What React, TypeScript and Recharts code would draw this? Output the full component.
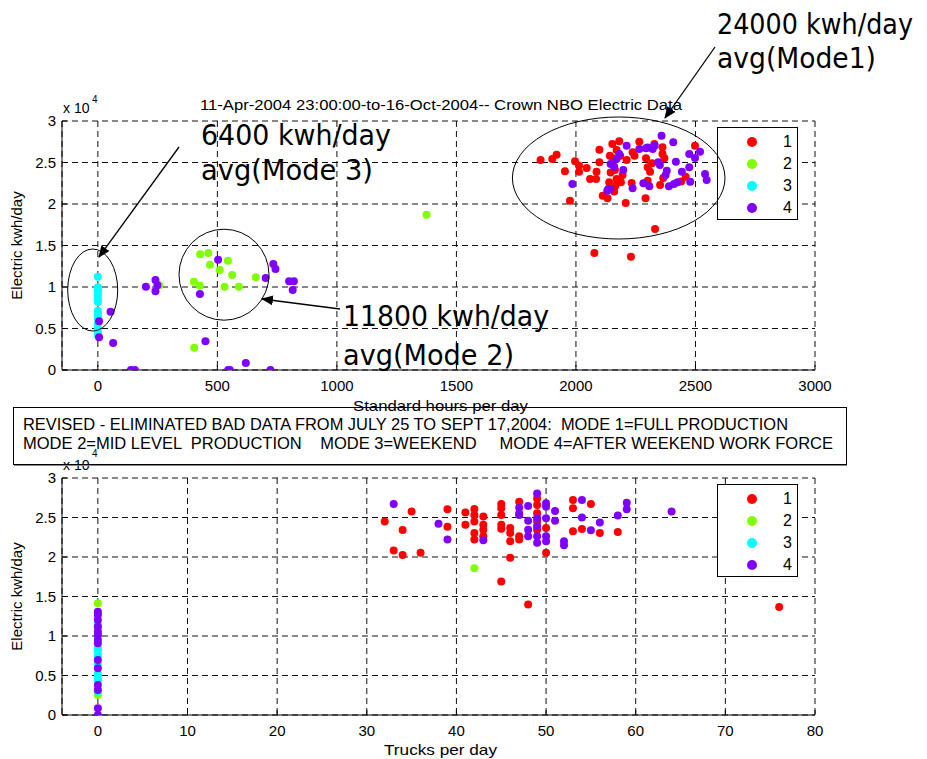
import { ScatterChart, Scatter, XAxis, YAxis, CartesianGrid, Legend } from "recharts";

// standard hours per day vs electric kwh/day, one array of [x, y] per mode
const hoursMode1: [number, number][] = [
  [1852, 25300], [1901, 25420], [1919, 25940], [1954, 23940], [1975, 20400], [1996, 25140],
  [2013, 24620], [2013, 23890], [2045, 24340], [2059, 23010], [2084, 23010], [2086, 23890],
  [2077, 14100], [2098, 26540], [2098, 25020], [2112, 21000], [2132, 20680], [2142, 25820],
  [2139, 22610], [2152, 27230], [2163, 24100], [2170, 23010], [2181, 27550], [2188, 22610],
  [2208, 20120], [2212, 25300], [2230, 13650], [2233, 22530], [2237, 26230], [2265, 27510],
  [2293, 25500], [2291, 20680], [2300, 24420], [2310, 23890], [2328, 27230], [2331, 16990],
  [2362, 26830], [2362, 26020], [2365, 23130], [2498, 27030], [2459, 23290], [2155, 25500],
  [2170, 26500], [2185, 25800], [2145, 23800], [2165, 22200], [2195, 23500], [2245, 25800],
  [2300, 22800], [2318, 24900], [2352, 22300], [2370, 25500], [2160, 21500], [2440, 22700],
];
const hoursMode2: [number, number][] = [
  [428, 13940], [462, 14100], [469, 12690], [544, 13170], [510, 12050], [562, 11440],
  [402, 10640], [427, 10160], [530, 10040], [590, 10040], [661, 11170], [403, 2690],
  [1375, 18710], [257, 10200],
];
const hoursMode3: [number, number][] = [
  [0, 11240], [0, 9960], [0, 9600], [0, 9430], [0, 8950], [0, 8470], [0, 8200], [0, 7140],
  [0, 6870], [0, 6600], [0, 6140], [0, 5540], [0, 5020], [0, 4540], [0, 4200],
];
const hoursMode4: [number, number][] = [
  [5, 5870], [5, 3940], [53, 7030], [64, 3250], [138, 0], [155, 0], [201, 10040], [241, 10840],
  [241, 9480], [249, 10200], [427, 9160], [503, 13290], [450, 3460], [734, 12770], [743, 12170],
  [702, 11080], [800, 10690], [820, 10690], [815, 9640], [545, 0], [552, 0], [619, 840], [722, 0],
  [1985, 22410], [2135, 21810], [2143, 21810], [2145, 24820], [2170, 25420], [2181, 26020],
  [2198, 24100], [2212, 27030], [2237, 21890], [2265, 26630], [2282, 22490], [2293, 26710],
  [2307, 22130], [2321, 26630], [2329, 27030], [2344, 25020], [2351, 24700], [2358, 28230],
  [2375, 23490], [2389, 22130], [2407, 27430], [2418, 25100], [2425, 22610], [2443, 23890],
  [2474, 24420], [2474, 26020], [2478, 22690], [2498, 25540], [2519, 26300], [2540, 23610],
  [2547, 22890], [2131, 21600], [2160, 24500], [2300, 26800], [2380, 24000], [2410, 22400],
];

// trucks per day vs electric kwh/day
const trucksMode1: [number, number][] = [
  [32, 24500], [35, 25750], [34, 23420], [33, 20830], [34, 20250], [36, 20540], [39, 26040],
  [39, 23830], [41, 25630], [41, 24080], [42, 26080], [42, 25330], [42, 24500], [42, 23040],
  [42, 22210], [43, 25130], [43, 24080], [43, 23460], [43, 22620], [45, 26710], [45, 26170],
  [45, 25330], [45, 24080], [45, 23580], [45, 16910], [46, 23670], [46, 23040], [46, 22000],
  [46, 19910], [47, 27000], [47, 25540], [47, 22620], [47, 22210], [48, 13990], [49, 27420],
  [49, 26580], [49, 25540], [49, 24500], [49, 23460], [50, 23670], [50, 20540], [53, 27210],
  [53, 26170], [53, 23250], [54, 23540], [55, 26710], [56, 23040], [58, 23170], [76, 13670],
];
const trucksMode2: [number, number][] = [[42, 18580], [0, 14130], [0, 2530], [0, 11000]];
const trucksMode3: [number, number][] = [
  [0, 12800], [0, 11500], [0, 10000], [0, 8440], [0, 8100], [0, 7500], [0, 6500], [0, 5200],
  [0, 4850], [0, 4400], [0, 3000],
];
const trucksMode4: [number, number][] = [
  [0, 13080], [0, 12660], [0, 12030], [0, 11180], [0, 10550], [0, 10130], [0, 9490], [0, 9070],
  [0, 6960], [0, 5910], [0, 3800], [0, 3160], [0, 840], [0, 0],
  [33, 26710], [38, 24210], [39, 22210], [43, 22120], [47, 26250], [47, 25330], [48, 26460],
  [48, 24580], [48, 23460], [48, 22620], [49, 28040], [49, 24920], [49, 23880], [49, 22620],
  [49, 21790], [50, 26790], [50, 26380], [50, 24920], [50, 22620], [50, 22000], [51, 25830],
  [51, 24580], [52, 22000], [52, 21500], [54, 27210], [54, 25000], [55, 23380], [56, 24370],
  [58, 25250], [59, 26880], [59, 26040], [64, 25750],
];

const modeNames = ["1", "2", "3", "4"];
const modeColors = ["#ff0000", "#80ff00", "#00ffff", "#8000ff"];
const hoursTicks = [0, 500, 1000, 1500, 2000, 2500, 3000];
const trucksTicks = [0, 10, 20, 30, 40, 50, 60, 70, 80];
const kwhTicks = [0, 5000, 10000, 15000, 20000, 25000, 30000];

const FONT = "'Liberation Sans', Arial, Helvetica, sans-serif";
const BIG = "'DejaVu Sans', Verdana, sans-serif";

const toPoints = (rows: [number, number][]) => rows.map(([x, y]) => ({ x, y }));

function LegendBox({ payload }: any) {
  return (
    <div
      style={{
        width: 81,
        height: 93,
        boxSizing: "border-box",
        border: "1px solid #000",
        background: "#fff",
        paddingTop: 3,
        fontFamily: FONT,
        fontSize: 16,
      }}
    >
      {(payload || []).map((p: any) => (
        <div key={p.value} style={{ height: 22, position: "relative" }}>
          <span
            style={{
              position: "absolute",
              left: 29,
              top: 6,
              width: 10,
              height: 10,
              borderRadius: 5,
              background: p.color,
            }}
          />
          <span style={{ position: "absolute", left: 65, top: 2, color: "#000" }}>{p.value}</span>
        </div>
      ))}
    </div>
  );
}

function Panel({
  series,
  domain,
  ticks,
  height,
  top,
  plotHeight,
}: {
  series: [number, number][][];
  domain: [number, number];
  ticks: number[];
  height: number;
  top: number;
  plotHeight: number;
}) {
  return (
    <ScatterChart width={927} height={height} margin={{ top, right: 112, bottom: height - top - plotHeight - 30, left: 22 }}>
      <CartesianGrid stroke="#111" strokeDasharray="6 4" />
      {/* matlab style: short ticks pointing into the plot */}
      <XAxis
        type="number"
        dataKey="x"
        domain={domain}
        ticks={ticks}
        allowDataOverflow
        height={30}
        tickLine={{ stroke: "#000" }}
        tickSize={-5}
        tickMargin={15}
        axisLine={{ stroke: "#000" }}
        tick={{ fill: "#000", fontSize: 15, fontFamily: FONT }}
      />
      <YAxis
        type="number"
        dataKey="y"
        domain={[0, 30000]}
        ticks={kwhTicks}
        allowDataOverflow
        width={40}
        tickLine={{ stroke: "#000" }}
        tickSize={-5}
        tickMargin={11}
        axisLine={{ stroke: "#000" }}
        tick={{ fill: "#000", fontSize: 15, fontFamily: FONT }}
        tickFormatter={(v: number) => String(v / 10000)}
      />
      <Legend
        layout="vertical"
        align="center"
        verticalAlign="middle"
        wrapperStyle={{ left: 717, top: top + 6, width: 81 }}
        content={<LegendBox />}
      />
      {series.map((rows, i) => (
        <Scatter
          key={modeNames[i]}
          name={modeNames[i]}
          data={toPoints(rows)}
          fill={modeColors[i]}
          isAnimationActive={false}
          shape={(p: any) => <circle cx={p.cx} cy={p.cy} r={4} fill={modeColors[i]} />}
        />
      ))}
    </ScatterChart>
  );
}

export default function App() {
  return (
    <div style={{ position: "absolute", left: 0, top: 0, width: 927, height: 759, background: "#fff", fontFamily: FONT }}>
      <div style={{ position: "absolute", left: 0, top: 0 }}>
        <Panel
          series={[hoursMode1, hoursMode2, hoursMode3, hoursMode4]}
          domain={[-150, 3000]}
          ticks={hoursTicks}
          height={400}
          top={121}
          plotHeight={249}
        />
      </div>
      <div style={{ position: "absolute", left: 0, top: 400 }}>
        <Panel
          series={[trucksMode1, trucksMode2, trucksMode3, trucksMode4]}
          domain={[-4, 80]}
          ticks={trucksTicks}
          height={359}
          top={78}
          plotHeight={237}
        />
      </div>
      <svg width={927} height={759} style={{ position: "absolute", left: 0, top: 0, pointerEvents: "none" }}>
        <defs>
          <marker id="head" markerUnits="userSpaceOnUse" markerWidth={12} markerHeight={10} refX={11} refY={5} orient="auto">
            <path d="M0,0 L12,5 L0,10 z" fill="#000" />
          </marker>
        </defs>
        <g fontFamily={FONT} fill="#000">
          <text x={200} y={110} fontSize={14} textLength={482} lengthAdjust="spacingAndGlyphs">
            11-Apr-2004 23:00:00-to-16-Oct-2004-- Crown NBO Electric Data
          </text>
          <text x={63} y={113} fontSize={14}>x 10</text>
          <text x={92} y={103} fontSize={10}>4</text>
          <text x={63} y={470} fontSize={14}>x 10</text>
          <text x={92} y={457} fontSize={10}>4</text>
          <text x={353} y={411} fontSize={15} textLength={175} lengthAdjust="spacingAndGlyphs">Standard hours per day</text>
          <text x={384} y={755} fontSize={15} textLength={113} lengthAdjust="spacingAndGlyphs">Trucks per day</text>
          <text x={22} y={245.5} fontSize={15} textAnchor="middle" transform="rotate(-90 22 245.5)">
            Electric kwh/day
          </text>
          <text x={22} y={596.5} fontSize={15} textAnchor="middle" transform="rotate(-90 22 596.5)">
            Electric kwh/day
          </text>
          <text x={23} y={429.5} fontSize={16} textLength={765} lengthAdjust="spacingAndGlyphs" xmlSpace="preserve">
            REVISED - ELIMINATED BAD DATA FROM JULY 25 TO SEPT 17,2004:  MODE 1=FULL PRODUCTION
          </text>
          <text x={23} y={448.5} fontSize={16} textLength={810} lengthAdjust="spacingAndGlyphs" xmlSpace="preserve">
            MODE 2=MID LEVEL  PRODUCTION    MODE 3=WEEKEND     MODE 4=AFTER WEEKEND WORK FORCE
          </text>
        </g>
        <rect x={13.5} y={407.5} width={833} height={57} fill="none" stroke="#000" />
        <line x1={14} y1={465.5} x2={847} y2={465.5} stroke="#888" />

        <g fill="none" stroke="#000" strokeWidth={1}>
          <ellipse cx={92.7} cy={290} rx={25} ry={41} />
          <ellipse cx={224} cy={274.7} rx={45} ry={45.5} />
          <ellipse cx={618.7} cy={178} rx={106.3} ry={61} />
          <line x1={179} y1={147} x2={99} y2={257} strokeWidth={1.3} markerEnd="url(#head)" />
          <line x1={340} y1={309} x2={262} y2={299} strokeWidth={1.3} markerEnd="url(#head)" />
          <line x1={715} y1={47} x2={665} y2={118} strokeWidth={1.3} markerEnd="url(#head)" />
        </g>

        <g fontFamily={BIG} fontSize={29} fill="#000">
          <text x={717} y={33.5} textLength={196} lengthAdjust="spacingAndGlyphs">24000 kwh/day</text>
          <text x={717} y={68} textLength={159} lengthAdjust="spacingAndGlyphs">avg(Mode1)</text>
          <text x={201} y={145} textLength={190} lengthAdjust="spacingAndGlyphs">6400 kwh/day</text>
          <text x={201} y={180} textLength={172} lengthAdjust="spacingAndGlyphs">avg(Mode 3)</text>
          <text x={343} y={326} textLength={206} lengthAdjust="spacingAndGlyphs">11800 kwh/day</text>
          <text x={343} y={365} textLength={171} lengthAdjust="spacingAndGlyphs">avg(Mode 2)</text>
        </g>
      </svg>
    </div>
  );
}
